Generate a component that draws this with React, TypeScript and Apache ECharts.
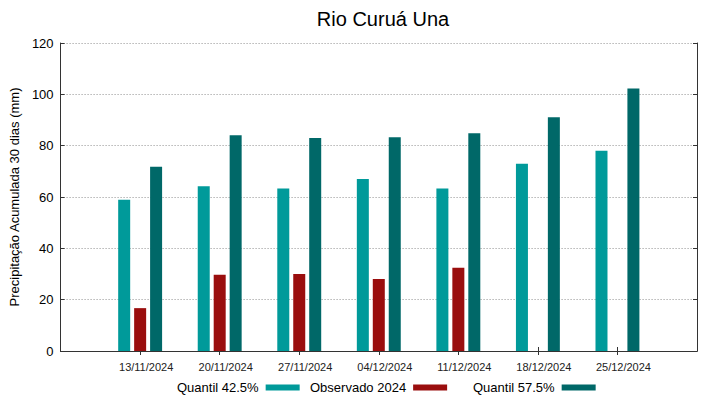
import React, { useEffect, useRef } from "react";
import * as echarts from "echarts";

const categories = ["13/11/2024", "20/11/2024", "27/11/2024", "04/12/2024", "11/12/2024", "18/12/2024", "25/12/2024"];
const quantil425 = [58.9, 64.2, 63.3, 67.0, 63.3, 73.0, 78.0];
const observado2024: (number | null)[] = [16.7, 29.7, 30.0, 28.1, 32.4, null, null];
const quantil575 = [71.8, 84.1, 83.0, 83.3, 84.8, 91.1, 102.3];
const yTicks = { min: 0, max: 120, interval: 20 };

const FONT = "Liberation Sans, Arial, sans-serif";
const C1 = "#009a9a";
const C2 = "#9a0e0e";
const C3 = "#006868";
const AX = "#333333";

export default function App() {
  const ref = useRef<HTMLDivElement>(null);
  useEffect(() => {
    if (!ref.current) return;
    const chart = echarts.init(ref.current, undefined, { renderer: "svg" });
    const cats = ["", ...categories, ""];
    const pad = (arr: (number | null)[]) => [null, ...arr, null];
    const tickInt = (i: number) => i > 0 && i < cats.length - 1;
    const legendBase = {
      orient: "horizontal" as const,
      align: "right" as const,
      itemWidth: 34,
      itemHeight: 6,
      icon: "rect",
      top: 381,
      textStyle: { fontFamily: FONT, fontSize: 13, color: "#000", padding: [0, 2, 0, 0] },
      padding: 0,
    };
    chart.setOption({
      animation: false,
      title: {
        text: "Rio Curuá Una",
        left: 378,
        textAlign: "center",
        top: 4,
        textStyle: { fontFamily: FONT, fontSize: 20, fontWeight: "normal", color: "#000" },
      },
      legend: [
        { ...legendBase, left: 177, data: ["Quantil 42.5%"] },
        { ...legendBase, left: 310, data: ["Observado 2024"] },
        { ...legendBase, left: 473, data: ["Quantil 57.5%"] },
      ],
      grid: { left: 59, right: 22, top: 43, bottom: 48 },
      xAxis: [
        {
          type: "category",
          data: cats,
          boundaryGap: false,
          axisLine: { show: true, lineStyle: { color: AX, width: 1 } },
          axisTick: { show: true, inside: true, length: 4, interval: (i: number) => tickInt(i), lineStyle: { color: AX } },
          axisLabel: {
            interval: 0,
            fontFamily: FONT,
            fontSize: 11,
            color: "#222",
            margin: 10,
            padding: [0, 0, 0, 12],
          },
          splitLine: { show: false },
        },
        {
          type: "category",
          data: cats,
          boundaryGap: false,
          position: "top",
          axisLine: { show: true, lineStyle: { color: AX, width: 1 } },
          axisTick: { show: true, inside: true, length: 4, interval: (i: number) => tickInt(i), lineStyle: { color: AX } },
          axisLabel: { show: false },
          splitLine: { show: false },
        },
      ],
      yAxis: [
        {
          type: "value",
          ...yTicks,
          name: "Precipitação Acumulada 30 dias (mm)",
          nameLocation: "middle",
          nameGap: 34,
          nameTextStyle: { fontFamily: FONT, fontSize: 13, color: "#000" },
          axisLine: { show: true, lineStyle: { color: AX, width: 1 } },
          axisTick: { show: true, inside: true, length: 4, lineStyle: { color: AX } },
          axisLabel: { fontFamily: FONT, fontSize: 13, color: "#000", margin: 7 },
          splitLine: { show: true, lineStyle: { color: "#909090", type: [1, 2], width: 1 } },
        },
        {
          type: "value",
          ...yTicks,
          position: "right",
          axisLine: { show: true, lineStyle: { color: AX, width: 1 } },
          axisTick: { show: true, inside: true, length: 4, lineStyle: { color: AX } },
          axisLabel: { show: false },
          splitLine: { show: false },
        },
      ],
      series: [
        {
          name: "Quantil 42.5%",
          type: "bar",
          data: pad(quantil425),
          barWidth: 12,
          barGap: "33%",
          itemStyle: { color: C1 },
        },
        {
          name: "Observado 2024",
          type: "bar",
          data: pad(observado2024),
          barWidth: 12,
          barGap: "33%",
          itemStyle: { color: C2 },
        },
        {
          name: "Quantil 57.5%",
          type: "bar",
          data: pad(quantil575),
          barWidth: 12,
          barGap: "33%",
          itemStyle: { color: C3 },
        },
      ],
    });
    return () => chart.dispose();
  }, []);
  return <div ref={ref} style={{ width: 719, height: 399, position: "absolute", left: 0, top: 0, background: "#fff" }} />;
}
